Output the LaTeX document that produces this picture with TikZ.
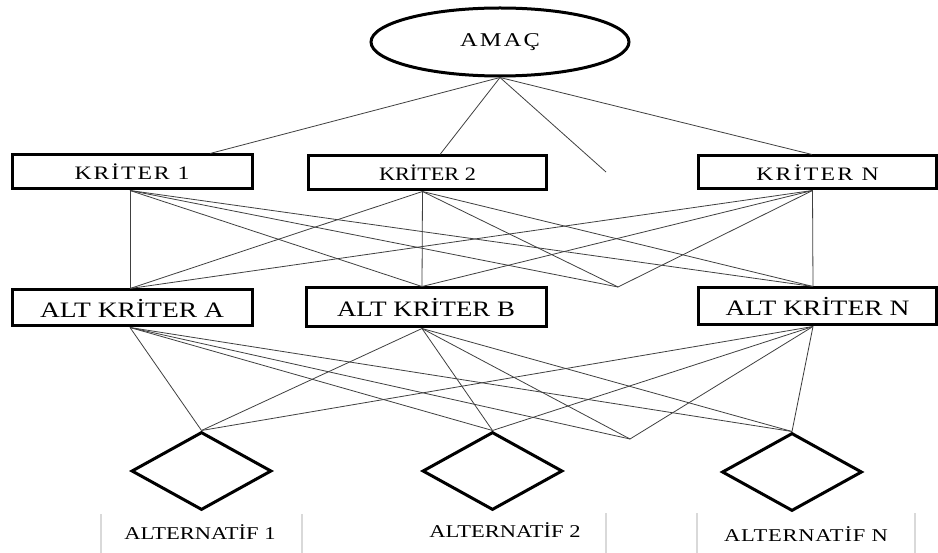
\documentclass[tikz,border=0pt]{standalone}
\usepackage{fontspec}
\setmainfont{Liberation Serif}
\usetikzlibrary{shapes.geometric}
\newcommand{\mylbl}[4]{\fontsize{#1}{#1}\selectfont\addfontfeature{LetterSpace=#3}\scalebox{#2}[1]{#4}}
\begin{document}
\begin{tikzpicture}[x=1pt,y=-1pt,
  box/.style={draw=black, line width=3pt, rectangle, inner sep=0pt},
  conn/.style={draw=black!75, line width=0.8pt},
  altshape/.style={draw=black, line width=3pt, diamond, inner sep=0pt, minimum width=140pt, minimum height=78pt},
  goal/.style={draw=black, line width=3pt, ellipse, inner sep=0pt, minimum width=258pt, minimum height=68pt},
  sepline/.style={draw=black!15, line width=1.2pt},
  lab/.style={inner sep=0pt}]
\useasboundingbox (0,0) rectangle (938,553);
\fill[white] (0,0) rectangle (938,553);

% goal
\node[goal] (goal) at (500,42) {\mylbl{19.5}{1.25}{9}{AMAÇ}};

% criteria
\node[box, minimum width=240pt, minimum height=34pt] (k1) at (132,172) {\mylbl{19}{1.25}{8}{KRİTER 1}};
\node[box, minimum width=238pt, minimum height=34pt] (k2) at (427.5,173) {\mylbl{19}{1.17}{0}{KRİTER 2}};
\node[box, minimum width=238pt, minimum height=33pt] (kn) at (817.5,172.5) {\mylbl{19}{1.25}{9.5}{KRİTER N}};

% sub-criteria
\node[box, minimum width=240pt, minimum height=36pt] (sa) at (132,308) {\mylbl{22}{1.25}{0}{ALT KRİTER A}};
\node[box, minimum width=240pt, minimum height=39pt] (sb) at (426,307.5) {\mylbl{22}{1.22}{0}{ALT KRİTER B}};
\node[box, minimum width=238pt, minimum height=37pt] (sn) at (817.5,306.5) {\mylbl{22}{1.25}{0}{ALT KRİTER N}};

% alternatives
\node[altshape] (d1) at (201.5,471) {};
\node[altshape] (d2) at (492.5,471) {};
\node[altshape] (dn) at (792,472) {};

% labels
\node[lab] (l1) at (200,532) {\mylbl{18}{1.25}{0}{ALTERNATİF 1}};
\node[lab] (l2) at (505,530) {\mylbl{18}{1.25}{0}{ALTERNATİF 2}};
\node[lab] (ln) at (806,534) {\mylbl{18}{1.25}{3.5}{ALTERNATİF N}};

% connection points
\coordinate (k1t) at ([xshift=78pt]k1.north);
\coordinate (k2t) at ([xshift=12.5pt]k2.north);
\coordinate (knt) at ([xshift=-5.5pt]kn.north);
\coordinate (gfree) at (606,172);

\coordinate (k1b) at ([xshift=-2pt]k1.south);
\coordinate (k2b) at ([xshift=-5pt]k2.south);
\coordinate (knb) at ([xshift=-5pt]kn.south);

\coordinate (sat) at ([xshift=-2pt]sa.north);
\coordinate (sbt) at ([xshift=-4pt]sb.north);
\coordinate (snt) at ([xshift=-4.5pt]sn.north);
\coordinate (mfree) at (618,287);

\coordinate (sab) at ([xshift=-2pt]sa.south);
\coordinate (sbb) at ([xshift=-4pt]sb.south);
\coordinate (snb) at ([xshift=-4.5pt]sn.south);
\coordinate (bfree) at (630,439);

% goal -> criteria
\draw[conn] (goal.south) -- (k1t);
\draw[conn] (goal.south) -- (k2t);
\draw[conn] (goal.south) -- (gfree);
\draw[conn] (goal.south) -- (knt);

% criteria -> sub-criteria
\foreach \s in {k1b,k2b,knb}{
  \foreach \t in {sat,sbt,mfree,snt}{
    \draw[conn] (\s) -- (\t);
  }
}

% sub-criteria -> alternatives
\foreach \s in {sab,sbb,snb}{
  \foreach \t in {d1.north,d2.north,bfree,dn.north}{
    \draw[conn] (\s) -- (\t);
  }
}

% table separators
\draw[sepline] (101,514) -- (101,553);
\draw[sepline] (302,514) -- (302,553);
\draw[sepline] (606,513) -- (606,553);
\draw[sepline] (697,513) -- (697,553);
\draw[sepline] (915,513) -- (915,553);
\end{tikzpicture}
\end{document}
